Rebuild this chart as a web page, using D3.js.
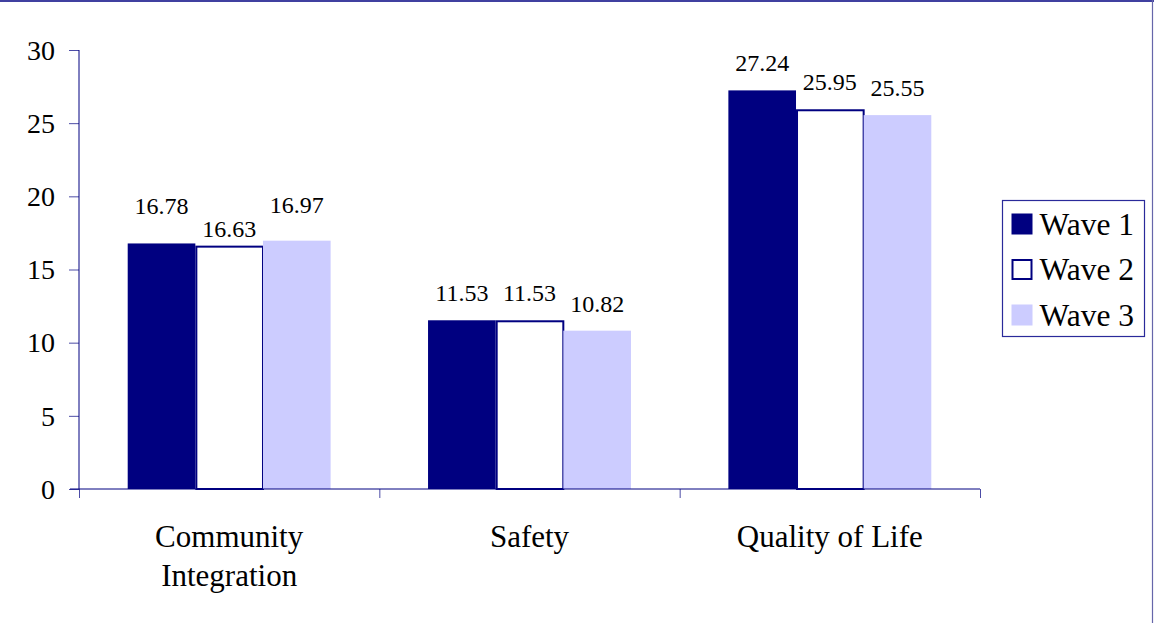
<!DOCTYPE html>
<html>
<head>
<meta charset="utf-8">
<script src="https://cdn.jsdelivr.net/npm/d3@7/dist/d3.min.js"></script>
<style>
  html, body { margin: 0; padding: 0; background: #fff; }
</style>
</head>
<body>
<svg id="chart" width="1154" height="623"></svg>
<script>
// Mean scores by domain across three survey waves
const categories = ["Community Integration", "Safety", "Quality of Life"];
const seriesNames = ["Wave 1", "Wave 2", "Wave 3"];
const wave1 = [16.78, 11.53, 27.24];
const wave2 = [16.63, 11.53, 25.95];
const wave3 = [16.97, 10.82, 25.55];
const yTicks = [0, 5, 10, 15, 20, 25, 30];

const seriesValues = [wave1, wave2, wave3];
const fills = ["#000080", "#ffffff", "#ccccff"];
const strokes = ["none", "#000080", "none"];
const FONT = "Liberation Serif";

const svg = d3.select("#chart");
const W = 1154, H = 623;
const plot = { left: 79, right: 980, top: 50, bottom: 489 };

// frame edges
svg.append("line").attr("x1", 0).attr("x2", W).attr("y1", 1).attr("y2", 1)
  .attr("stroke", "#000080").attr("stroke-width", 1.5);
svg.append("line").attr("x1", 1152.5).attr("x2", 1152.5).attr("y1", 0).attr("y2", H)
  .attr("stroke", "#6666aa").attr("stroke-width", 1.2);

const y = d3.scaleLinear().domain([0, 30]).range([plot.bottom, plot.top]);
const x0 = d3.scaleBand().domain(categories).range([plot.left, plot.right]).paddingInner(0).paddingOuter(0);
const x1 = d3.scaleBand().domain(seriesNames).range([0, x0.bandwidth()]).paddingInner(0).paddingOuter(0.72);

// bars
const groups = svg.append("g").selectAll("g")
  .data(categories)
  .join("g")
  .attr("transform", c => `translate(${x0(c)},0)`);

groups.each(function (c, ci) {
  const g = d3.select(this);
  seriesNames.forEach((s, si) => {
    const v = seriesValues[si][ci];
    const isOutlined = strokes[si] !== "none";
    const inset = isOutlined ? 1 : 0;
    g.append("rect")
      .attr("x", x1(s) + inset)
      .attr("y", y(v) + inset)
      .attr("width", x1.bandwidth() - inset)
      .attr("height", y(0) - y(v) - inset)
      .attr("fill", fills[si])
      .attr("stroke", strokes[si])
      .attr("stroke-width", isOutlined ? 2 : 0);
  });
});

// axes
const yAxis = d3.axisLeft(y).tickValues(yTicks).tickSize(10).tickPadding(14).tickFormat(d3.format("d"));
const gy = svg.append("g").attr("transform", `translate(${plot.left},0)`).call(yAxis);
gy.select(".domain").attr("stroke", "#000080").attr("d", `M0.5,${plot.top}V${plot.bottom}`).attr("transform", "translate(-0.5,0)");
gy.selectAll(".tick line").attr("stroke", "#000080").attr("stroke-opacity", 0.7);
gy.selectAll(".tick text").attr("font-size", 28).attr("fill", "#000").attr("dy", "0.33em")
  .style("font-family", FONT);

const xAxis = d3.axisBottom(d3.scaleLinear().domain([0, 3]).range([plot.left, plot.right]))
  .tickValues([0, 1, 2, 3]).tickSize(9).tickFormat("");
const gx = svg.append("g").attr("transform", `translate(0,${plot.bottom})`).call(xAxis);
gx.select(".domain").attr("stroke", "#000080").attr("d", `M${plot.left - 9},0.5H${plot.right}`).attr("transform", "translate(0,-0.5)");
gx.selectAll(".tick line").attr("stroke", "#000080").attr("stroke-opacity", 0.7);

// category labels (wrapped onto two lines where needed)
const catLines = { "Community Integration": ["Community", "Integration"] };
categories.forEach(c => {
  const lines = catLines[c] || [c];
  const t = svg.append("text")
    .attr("x", x0(c) + x0.bandwidth() / 2)
    .attr("y", 547)
    .attr("text-anchor", "middle")
    .attr("font-size", 31)
    .attr("fill", "#000")
    .style("font-family", FONT);
  lines.forEach((ln, i) => {
    t.append("tspan").attr("x", x0(c) + x0.bandwidth() / 2).attr("dy", i === 0 ? 0 : 39).text(ln);
  });
});

// value labels above each bar; the crowded first group is staggered
const labelGap = 19;
const stagger = { "Community Integration": [-10, 10, -9] };
categories.forEach((c, ci) => {
  seriesNames.forEach((s, si) => {
    const v = seriesValues[si][ci];
    const shift = stagger[c] ? stagger[c][si] : 0;
    svg.append("text")
      .attr("x", x0(c) + x1(s) + x1.bandwidth() / 2)
      .attr("y", y(v) - labelGap + shift)
      .attr("text-anchor", "middle")
      .attr("font-size", 24)
      .attr("fill", "#000")
      .style("font-family", FONT)
      .text(v.toFixed(2));
  });
});

// legend
const lg = svg.append("g").attr("transform", "translate(1002.5,200.5)");
lg.append("rect").attr("width", 142).attr("height", 136)
  .attr("fill", "#fff").attr("stroke", "#2a2a9a").attr("stroke-width", 1.2);
seriesNames.forEach((s, i) => {
  const row = lg.append("g").attr("transform", `translate(9,${13 + i * 45.5})`);
  const outlined = strokes[i] !== "none";
  row.append("rect")
    .attr("x", outlined ? 1 : 0).attr("y", outlined ? 1 : 0)
    .attr("width", outlined ? 19 : 21).attr("height", outlined ? 19 : 21)
    .attr("fill", fills[i]).attr("stroke", strokes[i]).attr("stroke-width", outlined ? 2 : 0);
  row.append("text").attr("x", 28).attr("y", 21).attr("font-size", 31.5).attr("fill", "#000")
    .style("font-family", FONT).text(s);
});
</script>
</body>
</html>
